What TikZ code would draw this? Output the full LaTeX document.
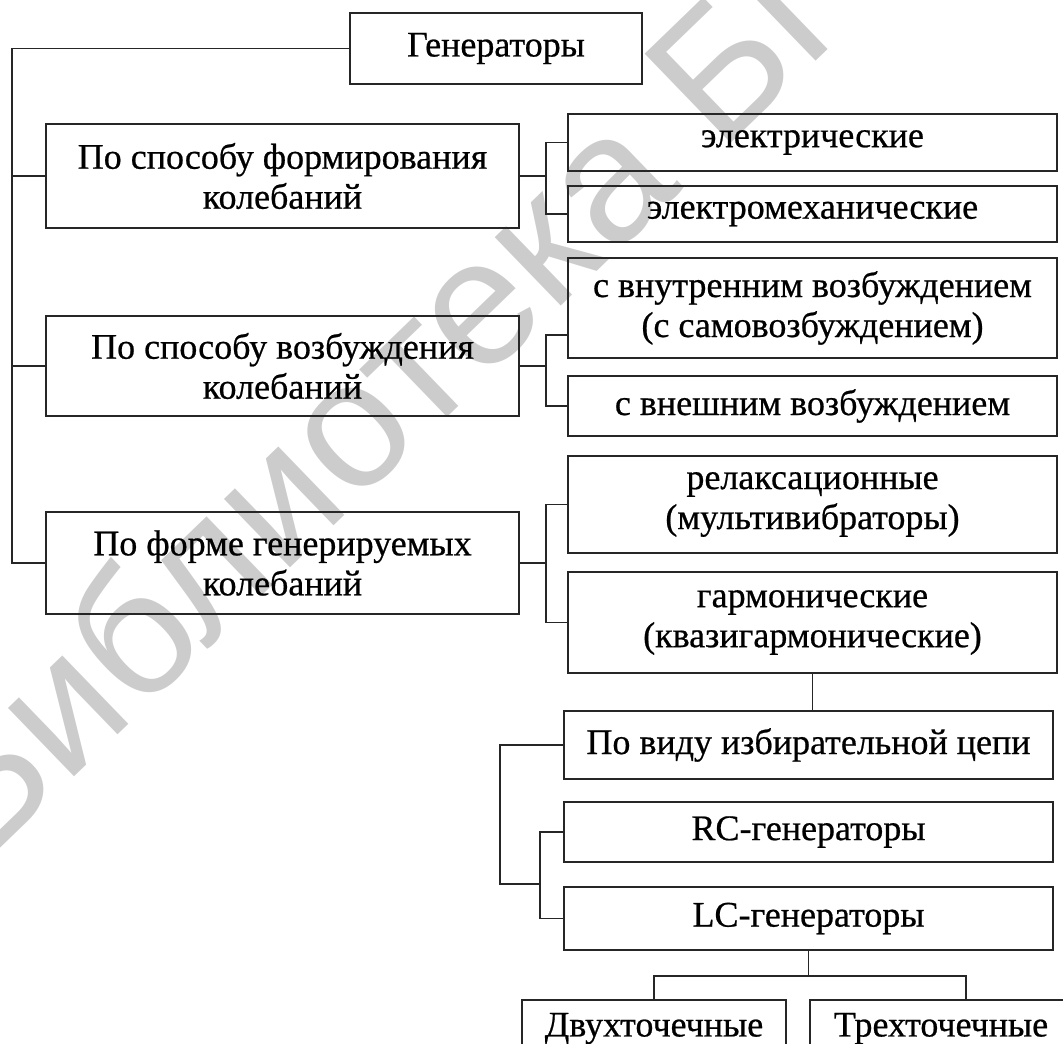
\documentclass[tikz,border=0pt]{standalone}
\usepackage{fontspec}
\setmainfont{Liberation Serif}
\newfontfamily\wmfont{Liberation Sans}
\newfontfamily\boxfont{Liberation Serif}[FakeBold=0.6]
\usetikzlibrary{calc}
\begin{document}
\begin{tikzpicture}[x=0.75pt,y=-0.75pt,
  box/.style={draw=black!85, line width=1.4pt, inner sep=0pt, align=center,
    font=\boxfont\fontsize{27pt}{30pt}\selectfont},
  conn/.style={draw=black!85, line width=1.4pt},
  wmark/.style={text=black!20, inner sep=0pt, font=\wmfont\fontsize{135pt}{135pt}\selectfont}]
\useasboundingbox (0,0) rectangle (1063,1043);
\clip (0,0) rectangle (1063,1043);
% watermark
\node[wmark, anchor=base west, rotate=44] (wm) at (-20,868) {Библиотека БГУИР};
% boxes
\node[box, minimum width=219pt, minimum height=53.25pt] (gen) at (496,48.5) {Генераторы};
\node[box, minimum width=354.75pt, minimum height=78pt] (A) at (282.5,176) {По способу формирования\\колебаний};
\node[box, minimum width=354.75pt, minimum height=75pt] (B) at (282.5,366) {По способу возбуждения\\колебаний};
\node[box, minimum width=354.75pt, minimum height=76.5pt] (C) at (282.5,563) {По форме генерируемых\\колебаний};
\node[box, minimum width=366.75pt, minimum height=42.75pt] (el) at (812.5,142.5) {электрические};
\node[box, minimum width=366.75pt, minimum height=42pt] (em) at (812.5,214) {\raisebox{-3pt}{электромеханические}};
\node[box, minimum width=366.75pt, minimum height=75pt] (vn) at (812.5,308) {с внутренним возбуждением\\(с самовозбуждением)};
\node[box, minimum width=366.75pt, minimum height=45pt] (vs) at (812.5,406) {\raisebox{-3pt}{с внешним возбуждением}};
\node[box, minimum width=366.75pt, minimum height=72.75pt] (rel) at (812.5,504.5) {релаксационные\\(мультивибраторы)};
\node[box, minimum width=366.75pt, minimum height=75.75pt] (garm) at (812.5,622.5) {гармонические\\(квазигармонические)};
\node[box, minimum width=366.75pt, minimum height=51pt] (vid) at (808.5,745) {По виду избирательной цепи};
\node[box, minimum width=366.75pt, minimum height=45pt] (rc) at (808.5,832) {RC-генераторы};
\node[box, minimum width=366.75pt, minimum height=47.25pt] (lc) at (808.5,918.5) {LC-генераторы};
\node[box, minimum width=198pt, minimum height=45pt] (dv) at (654,1030) {\raisebox{8pt}{Двухточечные}};
\node[box, minimum width=234pt, minimum height=45pt] (tr) at (966,1030) {\raisebox{8pt}{Трехточечные}\hspace*{37.5pt}};
% connectors
\coordinate (t0) at (12,0);
\draw[conn] (gen.west) -| (t0 |- C.west) -- (C.west);
\draw[conn] (t0 |- A.west) -- (A.west);
\draw[conn] (t0 |- B.west) -- (B.west);
\coordinate (ja) at (546,0);
\draw[conn] (A.east) -- (ja |- A.east);
\draw[conn] (el.west) -| (ja |- em.west) -- (em.west);
\coordinate (vnj) at ($(vn.west)+(0,27)$);
\draw[conn] (B.east) -- (ja |- B.east);
\draw[conn] (vnj) -| (ja |- vs.west) -- (vs.west);
\draw[conn] (C.east) -- (ja |- C.east);
\draw[conn] (rel.west) -| (ja |- garm.west) -- (garm.west);
\draw[conn] (garm.south) -- (garm.south |- vid.north);
\coordinate (jr) at (540,0);
\coordinate (jv) at (500,0);
\coordinate (jj) at ($(jr |- rc.west)!0.6!(jr |- lc.west)$);
\draw[conn] (rc.west) -| (jr |- lc.west) -- (lc.west);
\draw[conn] (vid.west) -| (jv |- jj) -- (jj);
\coordinate (jl) at ($(lc.south)+(0,25)$);
\draw[conn] (lc.south) -- (jl);
\draw[conn] (dv.north) |- (jl -| tr.north) -- (tr.north);
\end{tikzpicture}
\end{document}
